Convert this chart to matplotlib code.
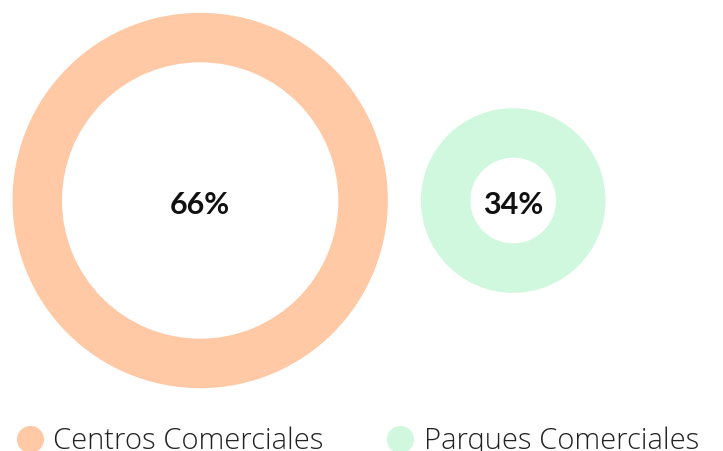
import matplotlib.pyplot as plt
from matplotlib.lines import Line2D

categories = ["Centros Comerciales", "Parques Comerciales"]
shares = [66, 34]
labels = ["66%", "34%"]
colors = ["#FFC9A6", "#D0F8DE"]

W, H = 723, 451
fig = plt.figure(figsize=(W / 100, H / 100), dpi=100)
ax = fig.add_axes([0, 0, 1, 1])

# ring size grows with the share, ring thickness is fixed
ring_width = 49.5
gap = 33
cy = 200.5
x = 12.5
for share, label, color in zip(shares, labels, colors):
    r = 2.98 * share - 9
    cx = x + r
    ax.pie([share], radius=r, center=(cx, cy), colors=[color],
           startangle=90, wedgeprops=dict(width=ring_width, linewidth=0))
    ax.text(cx, cy + 5, label, ha="center", va="center", fontsize=22,
            fontweight="bold", family=["Lato", "DejaVu Sans"], color="#111111")
    x = cx + r + gap

ax.set_xlim(0, W)
ax.set_ylim(H, 0)
ax.set_aspect("equal")
ax.axis("off")

handles = [Line2D([], [], linestyle="none", marker="o", markersize=19.5,
                  markerfacecolor=c, markeredgewidth=0) for c in colors]
leg = ax.legend(handles, categories, loc="lower left", bbox_to_anchor=(0.005, -0.038),
                ncol=2, frameon=False, handlelength=1.0, handletextpad=0.3,
                columnspacing=2.13, borderaxespad=0,
                prop={"family": ["Open Sans", "DejaVu Sans"], "size": 21, "weight": "light"})
for t in leg.get_texts():
    t.set_color("#222222")

fig.savefig("out.png", dpi=100)
